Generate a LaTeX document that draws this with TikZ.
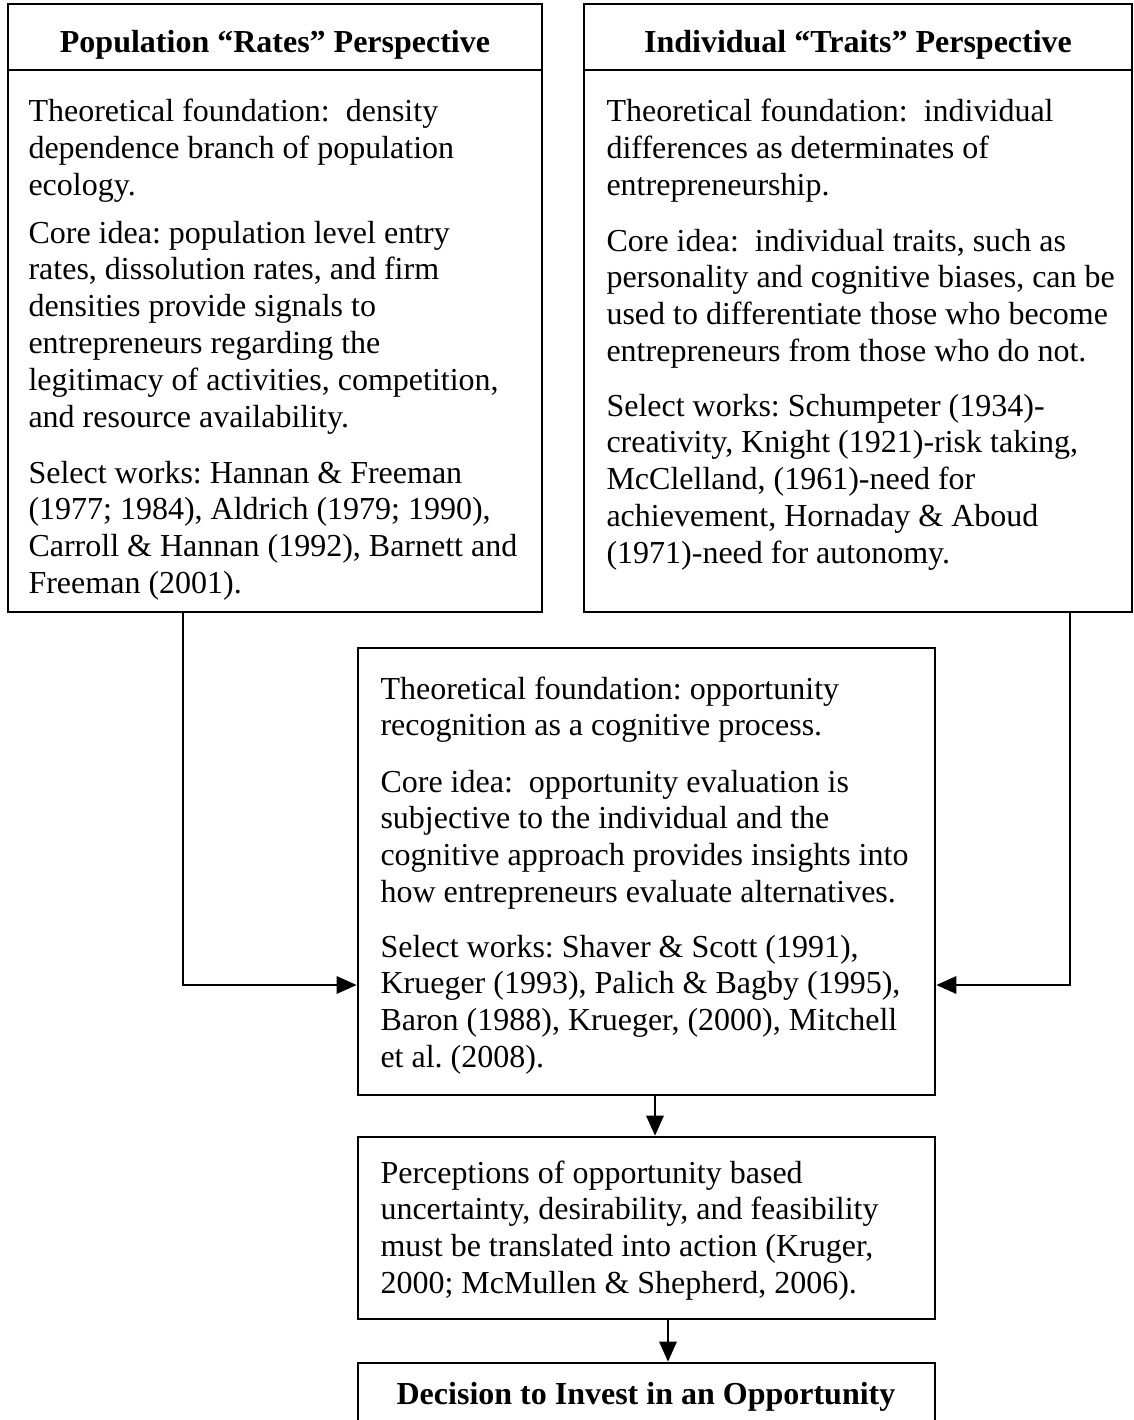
\documentclass[tikz,border=0pt]{standalone}
\usepackage{fontspec}
\setmainfont{Liberation Serif}
\usetikzlibrary{arrows.meta,fit,calc}
\frenchspacing
\begin{document}
\begin{tikzpicture}[x=0.375pt,y=-0.375pt,
  boxst/.style={draw=black,line width=1pt,inner sep=0pt},
  txt/.style={anchor=base west,align=left,inner sep=0pt,font=\fontsize{12}{13.8}\selectfont\frenchspacing},
  hdr/.style={anchor=base,inner sep=0pt,font=\fontsize{12}{13.8}\selectfont\bfseries},
  conn/.style={line width=0.8pt,-{Triangle[length=7.5pt,width=6.5pt]}},
  rule/.style={line width=1pt}]
\useasboundingbox (0,0) rectangle (1134,1420);
\fill[white] (0,0) rectangle (1134,1420);
\clip (0,0) rectangle (1134,1420);
% corner coordinates
\coordinate (L1) at (8,4);    \coordinate (L2) at (542,612);
\coordinate (R1) at (584,4);  \coordinate (R2) at (1132,612);
\coordinate (M1) at (358,648);  \coordinate (M2) at (935,1095);
\coordinate (P1) at (358,1137); \coordinate (P2) at (935,1319);
\coordinate (D1) at (358,1363); \coordinate (D2) at (935,1460);
\coordinate (hdiv) at (0,70);
% boxes
\node[boxst,fit=(L1)(L2)] (left) {};
\node[boxst,fit=(R1)(R2)] (right) {};
\node[boxst,fit=(M1)(M2)] (mid) {};
\node[boxst,fit=(P1)(P2)] (perc) {};
\node[boxst,fit=(D1)(D2)] (dec) {};
\draw[rule] (left.west |- hdiv) -- (left.east |- hdiv);
\draw[rule] (right.west |- hdiv) -- (right.east |- hdiv);
% headers
\node[hdr] (lhead) at (275,53) {Population “Rates” Perspective};
\node[hdr] (rhead) at (858,53) {Individual “Traits” Perspective};
\node[hdr] (dhead) at (646,1404) {Decision to Invest in an Opportunity};
% left box text (positions are baselines of last lines)
\node[txt] (l1) at (28,195.6) {Theoretical foundation:\ \ density\\dependence branch of population\\ecology.};
\node[txt] (l2) at (28,427) {Core idea: population level entry\\rates, dissolution rates, and firm\\densities provide signals to\\entrepreneurs regarding the\\legitimacy of activities, competition,\\and resource availability.};
\node[txt] (l3) at (28,593.4) {Select works: Hannan \& Freeman\\(1977; 1984), Aldrich (1979; 1990),\\Carroll \& Hannan (1992), Barnett and\\Freeman (2001).};
% right box text
\node[txt] (r1) at (606,195.6) {Theoretical foundation:\ \ individual\\differences as determinates of\\entrepreneurship.};
\node[txt] (r2) at (606,361.4) {Core idea:\ \ individual traits, such as\\personality and cognitive biases, can be\\used to differentiate those who become\\entrepreneurs from those who do not.};
\node[txt] (r3) at (606,563.2) {Select works: Schumpeter (1934)-\\creativity, Knight (1921)-risk taking,\\McClelland, (1961)-need for\\achievement, Hornaday \& Aboud\\(1971)-need for autonomy.};
% middle box text
\node[txt] (m1) at (380,735.8) {Theoretical foundation: opportunity\\recognition as a cognitive process.};
\node[txt] (m2) at (380,902.4) {Core idea:\ \ opportunity evaluation is\\subjective to the individual and the\\cognitive approach provides insights into\\how entrepreneurs evaluate alternatives.};
\node[txt] (m3) at (380,1067.4) {Select works: Shaver \& Scott (1991),\\Krueger (1993), Palich \& Bagby (1995),\\Baron (1988), Krueger, (2000), Mitchell\\et al. (2008).};
% perceptions box text
\node[txt] (p1) at (380,1293.4) {Perceptions of opportunity based\\uncertainty, desirability, and feasibility\\must be translated into action (Kruger,\\2000; McMullen \& Shepherd, 2006).};
% connectors
\coordinate (ltap) at (183,985);
\coordinate (rtap) at (1070,985);
\coordinate (dn1) at (655,0);
\coordinate (dn2) at (668,0);
\draw[conn] (ltap |- left.south) |- (mid.west |- ltap);
\draw[conn] (rtap |- right.south) |- (mid.east |- rtap);
\draw[conn] (dn1 |- mid.south) -- (dn1 |- perc.north);
\draw[conn] (dn2 |- perc.south) -- (dn2 |- dec.north);
\end{tikzpicture}
\end{document}
